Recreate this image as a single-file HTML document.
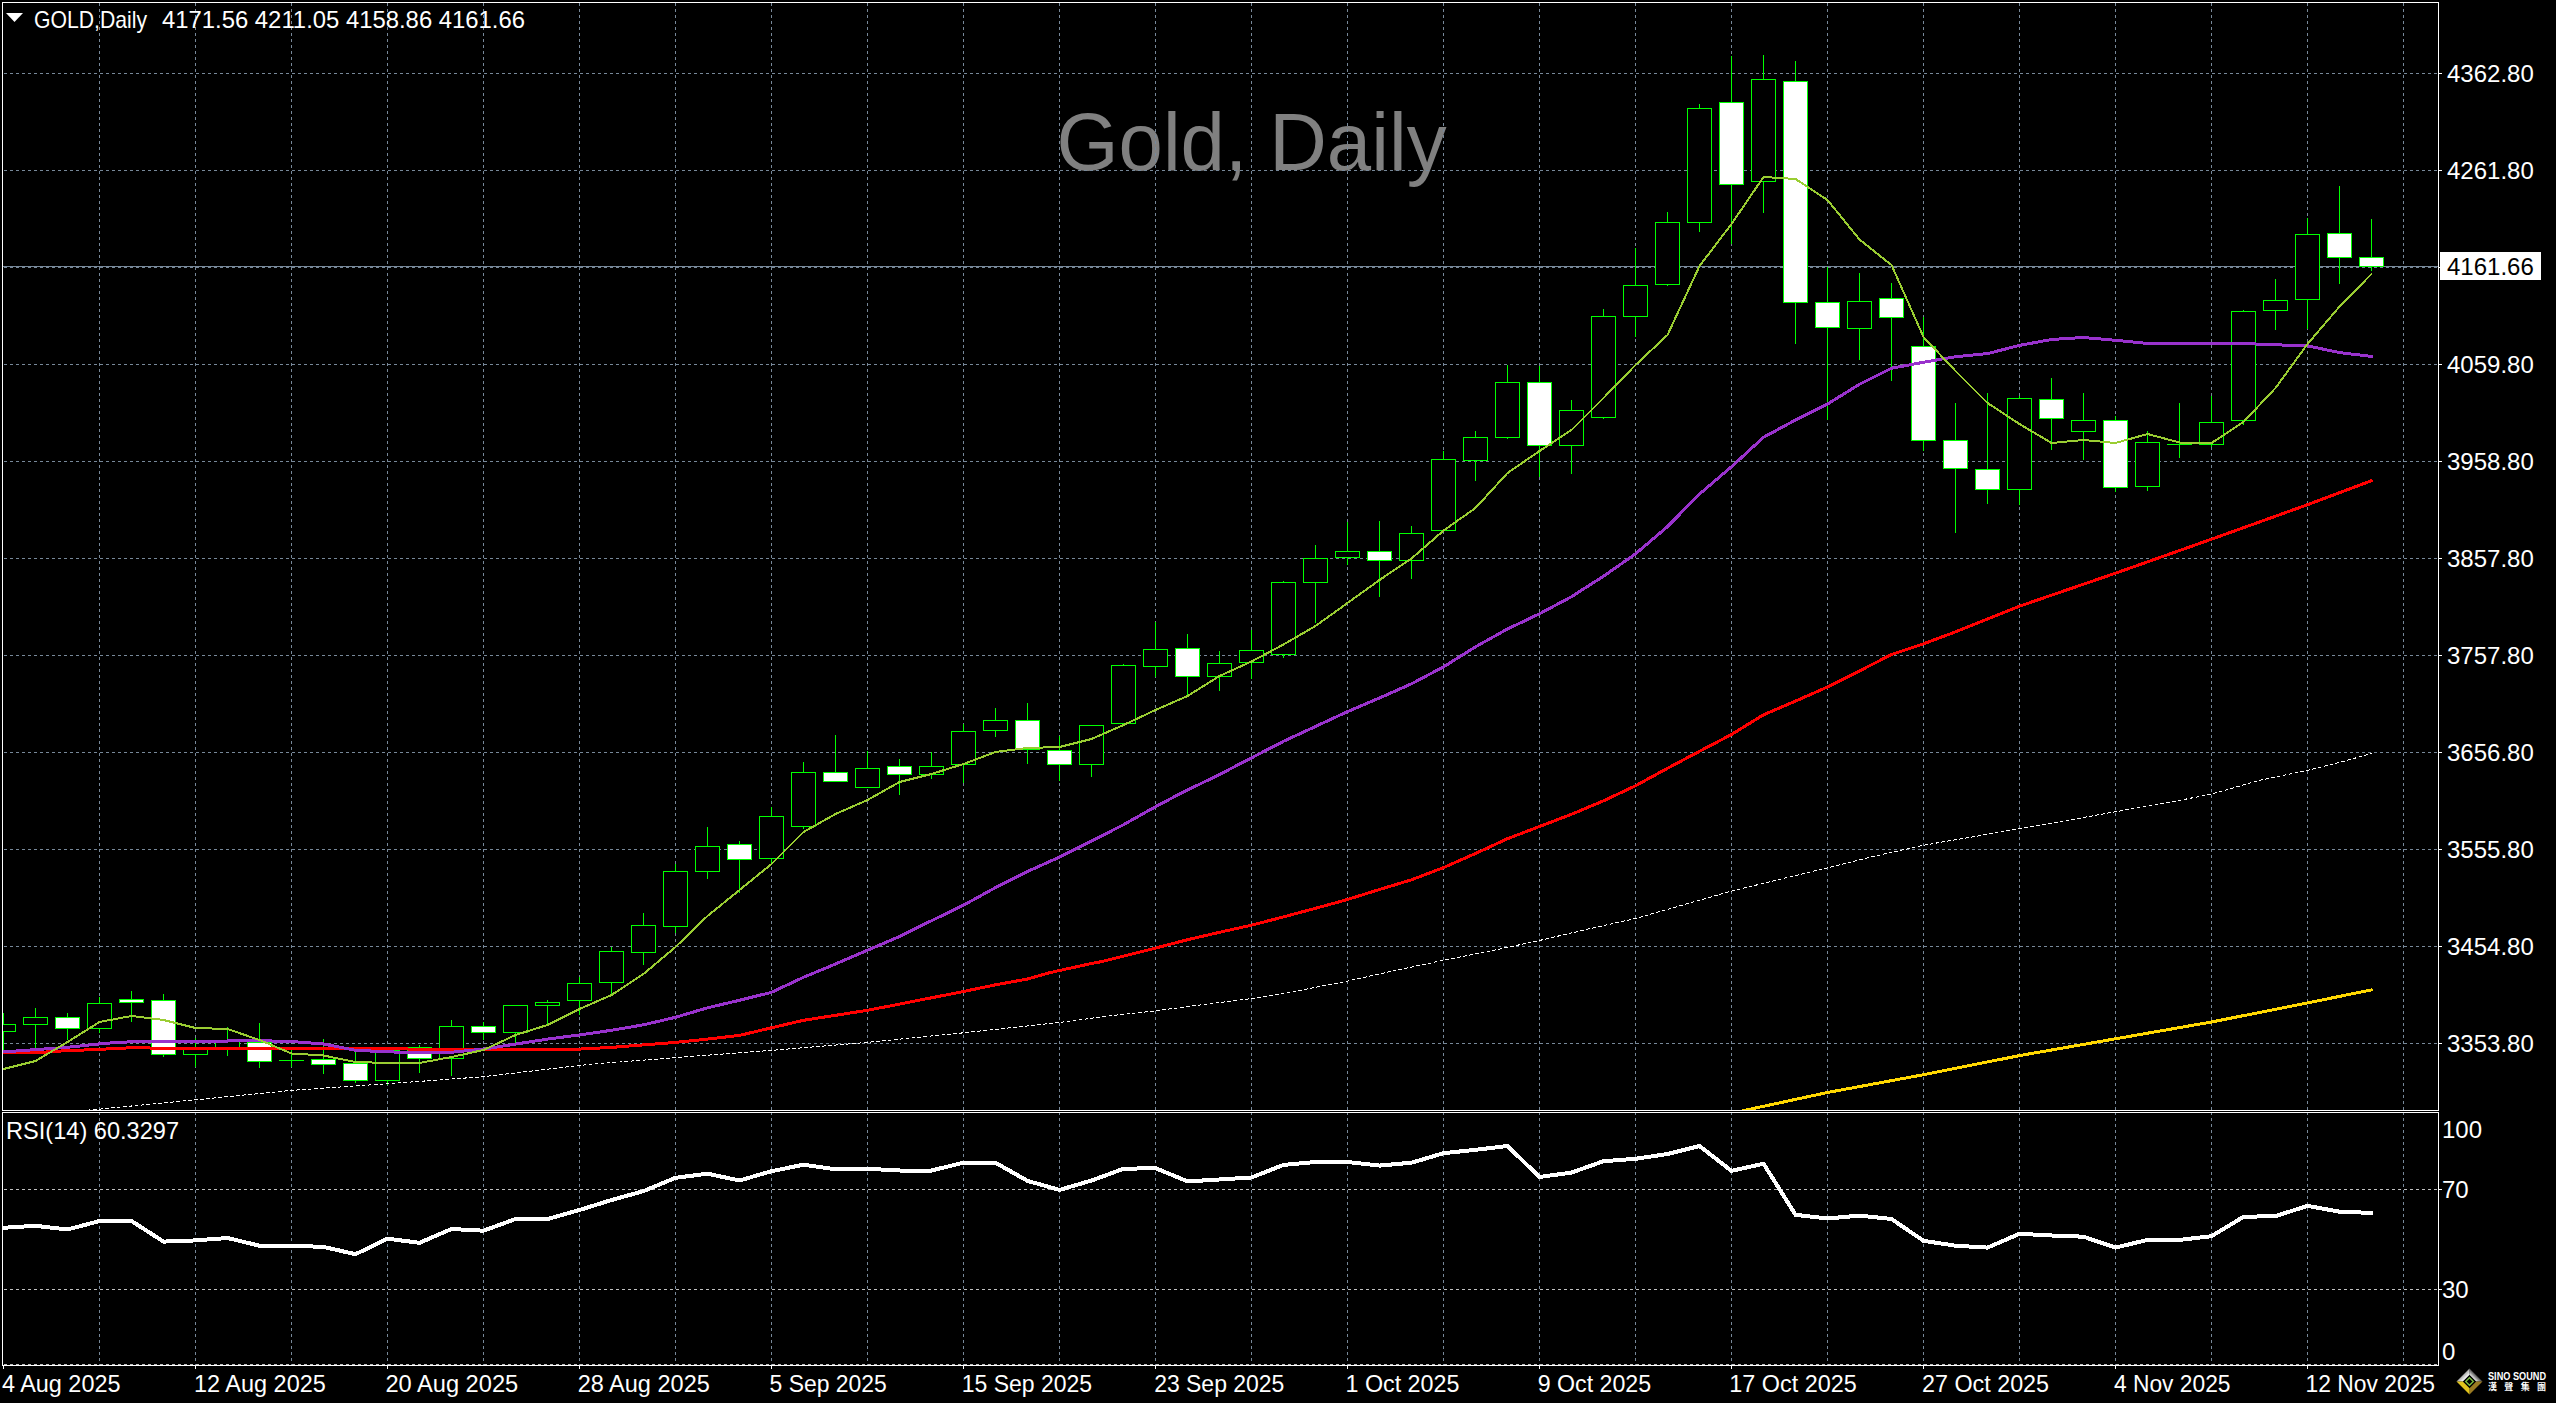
<!DOCTYPE html><html><head><meta charset="utf-8"><title>Gold, Daily</title>
<style>html,body{margin:0;padding:0;background:#000;overflow:hidden}svg{display:block}text{font-family:"Liberation Sans","Noto Sans CJK TC",sans-serif}</style></head><body>
<svg width="2556" height="1403" viewBox="0 0 2556 1403">
<rect x="0" y="0" width="2556" height="1403" fill="#000"/>
<defs><clipPath id="cm"><rect x="3" y="3" width="2435" height="1107"/></clipPath>
<clipPath id="cr"><rect x="3" y="1113" width="2435" height="252"/></clipPath></defs>
<text x="1056.5" y="170" font-size="81" fill="#808080" textLength="390" lengthAdjust="spacingAndGlyphs">Gold, Daily</text>
<g clip-path="url(#cm)" shape-rendering="crispEdges" stroke="#778899" stroke-width="1" stroke-dasharray="3 3"><line x1="99.5" y1="3" x2="99.5" y2="1110"/><line x1="195.5" y1="3" x2="195.5" y2="1110"/><line x1="291.5" y1="3" x2="291.5" y2="1110"/><line x1="387.5" y1="3" x2="387.5" y2="1110"/><line x1="483.5" y1="3" x2="483.5" y2="1110"/><line x1="579.5" y1="3" x2="579.5" y2="1110"/><line x1="675.5" y1="3" x2="675.5" y2="1110"/><line x1="771.5" y1="3" x2="771.5" y2="1110"/><line x1="867.5" y1="3" x2="867.5" y2="1110"/><line x1="963.5" y1="3" x2="963.5" y2="1110"/><line x1="1059.5" y1="3" x2="1059.5" y2="1110"/><line x1="1155.5" y1="3" x2="1155.5" y2="1110"/><line x1="1251.5" y1="3" x2="1251.5" y2="1110"/><line x1="1347.5" y1="3" x2="1347.5" y2="1110"/><line x1="1443.5" y1="3" x2="1443.5" y2="1110"/><line x1="1539.5" y1="3" x2="1539.5" y2="1110"/><line x1="1635.5" y1="3" x2="1635.5" y2="1110"/><line x1="1731.5" y1="3" x2="1731.5" y2="1110"/><line x1="1827.5" y1="3" x2="1827.5" y2="1110"/><line x1="1923.5" y1="3" x2="1923.5" y2="1110"/><line x1="2019.5" y1="3" x2="2019.5" y2="1110"/><line x1="2115.5" y1="3" x2="2115.5" y2="1110"/><line x1="2211.5" y1="3" x2="2211.5" y2="1110"/><line x1="2307.5" y1="3" x2="2307.5" y2="1110"/><line x1="2403.5" y1="3" x2="2403.5" y2="1110"/><line x1="4" y1="73.5" x2="2438" y2="73.5"/><line x1="4" y1="170.5" x2="2438" y2="170.5"/><line x1="4" y1="267.5" x2="2438" y2="267.5"/><line x1="4" y1="364.5" x2="2438" y2="364.5"/><line x1="4" y1="461.5" x2="2438" y2="461.5"/><line x1="4" y1="558.5" x2="2438" y2="558.5"/><line x1="4" y1="655.5" x2="2438" y2="655.5"/><line x1="4" y1="752.5" x2="2438" y2="752.5"/><line x1="4" y1="849.5" x2="2438" y2="849.5"/><line x1="4" y1="946.5" x2="2438" y2="946.5"/><line x1="4" y1="1043.5" x2="2438" y2="1043.5"/></g>
<line x1="3" y1="266.5" x2="2438" y2="266.5" stroke="#778899" stroke-width="1" shape-rendering="crispEdges"/>
<g clip-path="url(#cm)" shape-rendering="crispEdges" stroke="#00ff00" stroke-width="1"><line x1="3.5" y1="1013" x2="3.5" y2="1053"/><rect x="-8.5" y="1024.5" width="24" height="7" fill="#000"/><line x1="35.5" y1="1008" x2="35.5" y2="1049"/><rect x="23.5" y="1017.5" width="24" height="7" fill="#000"/><line x1="67.5" y1="1013" x2="67.5" y2="1040"/><rect x="55.5" y="1017.5" width="24" height="11" fill="#fff"/><line x1="99.5" y1="997" x2="99.5" y2="1033"/><rect x="87.5" y="1003.5" width="24" height="25" fill="#000"/><line x1="131.5" y1="991" x2="131.5" y2="1022"/><rect x="119.5" y="999.5" width="24" height="3" fill="#fff"/><line x1="163.5" y1="994" x2="163.5" y2="1057"/><rect x="151.5" y="1000.5" width="24" height="54" fill="#fff"/><line x1="195.5" y1="1038" x2="195.5" y2="1067"/><rect x="183.5" y="1048.5" width="24" height="6" fill="#000"/><line x1="227.5" y1="1027" x2="227.5" y2="1056"/><rect x="215.5" y="1041.5" width="24" height="7" fill="#000"/><line x1="259.5" y1="1023" x2="259.5" y2="1068"/><rect x="247.5" y="1042.5" width="24" height="19" fill="#fff"/><line x1="291.5" y1="1049" x2="291.5" y2="1067"/><line x1="279" y1="1060.5" x2="304" y2="1060.5"/><line x1="323.5" y1="1039" x2="323.5" y2="1074"/><rect x="311.5" y="1059.5" width="24" height="5" fill="#fff"/><line x1="355.5" y1="1051" x2="355.5" y2="1083"/><rect x="343.5" y="1063.5" width="24" height="17" fill="#fff"/><line x1="387.5" y1="1047" x2="387.5" y2="1085"/><rect x="375.5" y="1050.5" width="24" height="30" fill="#000"/><line x1="419.5" y1="1045" x2="419.5" y2="1073"/><rect x="407.5" y="1047.5" width="24" height="11" fill="#fff"/><line x1="451.5" y1="1020" x2="451.5" y2="1076"/><rect x="439.5" y="1026.5" width="24" height="32" fill="#000"/><line x1="483.5" y1="1022" x2="483.5" y2="1040"/><rect x="471.5" y="1026.5" width="24" height="6" fill="#fff"/><line x1="515.5" y1="1005" x2="515.5" y2="1044"/><rect x="503.5" y="1005.5" width="24" height="27" fill="#000"/><line x1="547.5" y1="1000" x2="547.5" y2="1026"/><rect x="535.5" y="1002.5" width="24" height="3" fill="#000"/><line x1="579.5" y1="977" x2="579.5" y2="1015"/><rect x="567.5" y="983.5" width="24" height="17" fill="#000"/><line x1="611.5" y1="947" x2="611.5" y2="996"/><rect x="599.5" y="951.5" width="24" height="31" fill="#000"/><line x1="643.5" y1="913" x2="643.5" y2="965"/><rect x="631.5" y="925.5" width="24" height="27" fill="#000"/><line x1="675.5" y1="864" x2="675.5" y2="933"/><rect x="663.5" y="871.5" width="24" height="55" fill="#000"/><line x1="707.5" y1="827" x2="707.5" y2="879"/><rect x="695.5" y="846.5" width="24" height="25" fill="#000"/><line x1="739.5" y1="841" x2="739.5" y2="893"/><rect x="727.5" y="844.5" width="24" height="15" fill="#fff"/><line x1="771.5" y1="807" x2="771.5" y2="863"/><rect x="759.5" y="816.5" width="24" height="42" fill="#000"/><line x1="803.5" y1="762" x2="803.5" y2="829"/><rect x="791.5" y="772.5" width="24" height="54" fill="#000"/><line x1="835.5" y1="735" x2="835.5" y2="782"/><rect x="823.5" y="772.5" width="24" height="9" fill="#fff"/><line x1="867.5" y1="751" x2="867.5" y2="788"/><rect x="855.5" y="768.5" width="24" height="19" fill="#000"/><line x1="899.5" y1="759" x2="899.5" y2="795"/><rect x="887.5" y="766.5" width="24" height="8" fill="#fff"/><line x1="931.5" y1="752" x2="931.5" y2="779"/><rect x="919.5" y="766.5" width="24" height="8" fill="#000"/><line x1="963.5" y1="724" x2="963.5" y2="783"/><rect x="951.5" y="731.5" width="24" height="33" fill="#000"/><line x1="995.5" y1="708" x2="995.5" y2="737"/><rect x="983.5" y="720.5" width="24" height="10" fill="#000"/><line x1="1027.5" y1="703" x2="1027.5" y2="764"/><rect x="1015.5" y="720.5" width="24" height="29" fill="#fff"/><line x1="1059.5" y1="736" x2="1059.5" y2="781"/><rect x="1047.5" y="750.5" width="24" height="14" fill="#fff"/><line x1="1091.5" y1="725" x2="1091.5" y2="777"/><rect x="1079.5" y="725.5" width="24" height="39" fill="#000"/><line x1="1123.5" y1="664" x2="1123.5" y2="725"/><rect x="1111.5" y="665.5" width="24" height="58" fill="#000"/><line x1="1155.5" y1="622" x2="1155.5" y2="677"/><rect x="1143.5" y="649.5" width="24" height="17" fill="#000"/><line x1="1187.5" y1="634" x2="1187.5" y2="695"/><rect x="1175.5" y="648.5" width="24" height="28" fill="#fff"/><line x1="1219.5" y1="651" x2="1219.5" y2="691"/><rect x="1207.5" y="663.5" width="24" height="13" fill="#000"/><line x1="1251.5" y1="630" x2="1251.5" y2="679"/><rect x="1239.5" y="650.5" width="24" height="12" fill="#000"/><line x1="1283.5" y1="581" x2="1283.5" y2="658"/><rect x="1271.5" y="582.5" width="24" height="72" fill="#000"/><line x1="1315.5" y1="545" x2="1315.5" y2="623"/><rect x="1303.5" y="558.5" width="24" height="24" fill="#000"/><line x1="1347.5" y1="522" x2="1347.5" y2="565"/><rect x="1335.5" y="551.5" width="24" height="6" fill="#000"/><line x1="1379.5" y1="521" x2="1379.5" y2="597"/><rect x="1367.5" y="551.5" width="24" height="9" fill="#fff"/><line x1="1411.5" y1="526" x2="1411.5" y2="579"/><rect x="1399.5" y="533.5" width="24" height="27" fill="#000"/><line x1="1443.5" y1="451" x2="1443.5" y2="532"/><rect x="1431.5" y="459.5" width="24" height="71" fill="#000"/><line x1="1475.5" y1="431" x2="1475.5" y2="481"/><rect x="1463.5" y="437.5" width="24" height="23" fill="#000"/><line x1="1507.5" y1="365" x2="1507.5" y2="439"/><rect x="1495.5" y="382.5" width="24" height="55" fill="#000"/><line x1="1539.5" y1="366" x2="1539.5" y2="477"/><rect x="1527.5" y="382.5" width="24" height="63" fill="#fff"/><line x1="1571.5" y1="400" x2="1571.5" y2="474"/><rect x="1559.5" y="410.5" width="24" height="35" fill="#000"/><line x1="1603.5" y1="309" x2="1603.5" y2="419"/><rect x="1591.5" y="316.5" width="24" height="101" fill="#000"/><line x1="1635.5" y1="248" x2="1635.5" y2="337"/><rect x="1623.5" y="285.5" width="24" height="31" fill="#000"/><line x1="1667.5" y1="212" x2="1667.5" y2="286"/><rect x="1655.5" y="222.5" width="24" height="62" fill="#000"/><line x1="1699.5" y1="104" x2="1699.5" y2="232"/><rect x="1687.5" y="108.5" width="24" height="114" fill="#000"/><line x1="1731.5" y1="56" x2="1731.5" y2="244"/><rect x="1719.5" y="102.5" width="24" height="82" fill="#fff"/><line x1="1763.5" y1="55" x2="1763.5" y2="213"/><rect x="1751.5" y="79.5" width="24" height="102" fill="#000"/><line x1="1795.5" y1="61" x2="1795.5" y2="344"/><rect x="1783.5" y="81.5" width="24" height="221" fill="#fff"/><line x1="1827.5" y1="267" x2="1827.5" y2="420"/><rect x="1815.5" y="302.5" width="24" height="25" fill="#fff"/><line x1="1859.5" y1="273" x2="1859.5" y2="360"/><rect x="1847.5" y="301.5" width="24" height="27" fill="#000"/><line x1="1891.5" y1="283" x2="1891.5" y2="381"/><rect x="1879.5" y="298.5" width="24" height="19" fill="#fff"/><line x1="1923.5" y1="317" x2="1923.5" y2="451"/><rect x="1911.5" y="346.5" width="24" height="94" fill="#fff"/><line x1="1955.5" y1="403" x2="1955.5" y2="533"/><rect x="1943.5" y="440.5" width="24" height="28" fill="#fff"/><line x1="1987.5" y1="393" x2="1987.5" y2="504"/><rect x="1975.5" y="469.5" width="24" height="20" fill="#fff"/><line x1="2019.5" y1="396" x2="2019.5" y2="505"/><rect x="2007.5" y="398.5" width="24" height="91" fill="#000"/><line x1="2051.5" y1="378" x2="2051.5" y2="450"/><rect x="2039.5" y="399.5" width="24" height="19" fill="#fff"/><line x1="2083.5" y1="393" x2="2083.5" y2="460"/><rect x="2071.5" y="420.5" width="24" height="11" fill="#000"/><line x1="2115.5" y1="416" x2="2115.5" y2="492"/><rect x="2103.5" y="420.5" width="24" height="67" fill="#fff"/><line x1="2147.5" y1="431" x2="2147.5" y2="491"/><rect x="2135.5" y="442.5" width="24" height="44" fill="#000"/><line x1="2179.5" y1="403" x2="2179.5" y2="458"/><line x1="2167" y1="444.5" x2="2192" y2="444.5"/><line x1="2211.5" y1="396" x2="2211.5" y2="447"/><rect x="2199.5" y="422.5" width="24" height="22" fill="#000"/><line x1="2243.5" y1="310" x2="2243.5" y2="425"/><rect x="2231.5" y="311.5" width="24" height="109" fill="#000"/><line x1="2275.5" y1="279" x2="2275.5" y2="330"/><rect x="2263.5" y="300.5" width="24" height="10" fill="#000"/><line x1="2307.5" y1="218" x2="2307.5" y2="329"/><rect x="2295.5" y="234.5" width="24" height="65" fill="#000"/><line x1="2339.5" y1="186" x2="2339.5" y2="284"/><rect x="2327.5" y="233.5" width="24" height="24" fill="#fff"/><line x1="2371.5" y1="219" x2="2371.5" y2="271"/><rect x="2359.5" y="257.5" width="24" height="9" fill="#fff"/></g>
<g clip-path="url(#cm)" shape-rendering="crispEdges"><polyline points="3.5,1117 95.5,1109.5 195.5,1099.8 291.5,1090.4 387.5,1083.7 483.5,1076.7 579.5,1065.4 600.5,1063.5 675.5,1057.6 771.5,1050.4 867.5,1042.4 963.5,1032.8 1059.5,1022.5 1107.5,1016.1 1155.5,1010.8 1203.5,1004.5 1251.5,998.6 1299.5,990.5 1347.5,981.1 1395.5,970.4 1443.5,960.3 1491.5,950.8 1539.5,940.5 1587.5,929.2 1635.5,918.5 1683.5,904.8 1731.5,891.1 1779.5,879.4 1827.5,867.8 1875.5,856 1923.5,845.2 1971.5,837.1 2019.5,828.6 2067.5,820.4 2115.5,811.7 2163.5,803.5 2211.5,794.1 2259.5,780.4 2307.5,770.4 2339.5,762.5 2371.5,753.5" fill="none" stroke="#ffffff" stroke-width="1" stroke-linejoin="round" stroke-linecap="round" stroke-dasharray="3 3" shape-rendering="crispEdges"/><polyline points="1667.5,1127 1827.5,1092.5 1923.5,1074.7 2019.5,1055.6 2115.5,1038.8 2211.5,1022 2307.5,1002.9 2371.5,989.9" fill="none" stroke="#ffd700" stroke-width="3" stroke-linejoin="round" stroke-linecap="round" /><polyline points="3.5,1053 41.5,1052.5 48.5,1051.7 72.5,1050.4 95.5,1049.6 115.5,1048.5 135.5,1047.6 147.5,1047.6 152.5,1048.5 163.5,1048.3 400.5,1048.5 420.5,1049.9 515.5,1049.9 547.5,1049.9 579.5,1049.1 611.5,1047.4 643.5,1044.9 675.5,1042.4 707.5,1039.1 739.5,1035.4 771.5,1027.8 803.5,1020.3 835.5,1015.3 867.5,1010.3 899.5,1004.1 931.5,997.8 963.5,991.5 995.5,984.8 1027.5,979 1050.5,972.5 1059.5,970.5 1091.5,963.5 1100.5,961.8 1155.5,948.1 1187.5,939.7 1219.5,932.3 1251.5,925.2 1283.5,916.9 1315.5,908.3 1347.5,899.5 1379.5,889.5 1411.5,879.8 1443.5,867.6 1475.5,853.5 1507.5,838.7 1539.5,826.5 1571.5,814.3 1603.5,800.8 1635.5,785.8 1667.5,768.3 1699.5,751.3 1731.5,734.5 1763.5,714.8 1795.5,701.1 1827.5,687 1859.5,670.9 1891.5,654.6 1923.5,643.8 1955.5,631.9 1987.5,619 2019.5,606.2 2115.5,573.2 2211.5,539.2 2307.5,504.7 2371.5,480.7" fill="none" stroke="#ff0000" stroke-width="3" stroke-linejoin="round" stroke-linecap="round" /><polyline points="3.5,1051.8 19.5,1050.8 35.5,1049.6 67.5,1047.3 83.5,1045.6 99.5,1043.9 115.5,1042.5 131.5,1041.8 163.5,1041.3 227.5,1041 259.5,1040.7 291.5,1041.5 323.5,1044 355.5,1050.3 387.5,1051.8 419.5,1052.8 451.5,1052.3 483.5,1049.1 515.5,1044.1 547.5,1039.1 579.5,1034.9 611.5,1030.3 643.5,1024.8 675.5,1017.3 707.5,1007.8 739.5,1000.3 771.5,992.3 803.5,977.3 835.5,964 867.5,950.2 899.5,936.5 931.5,920.7 963.5,905.2 995.5,887.6 1027.5,871.5 1059.5,857.1 1091.5,841.1 1123.5,824.7 1155.5,806.7 1180.5,793.5 1219.5,774.5 1251.5,757.9 1283.5,741.3 1315.5,726.5 1347.5,711.6 1379.5,698 1411.5,683.8 1443.5,666.9 1475.5,646.8 1507.5,629 1539.5,613.8 1571.5,596.7 1603.5,576.2 1635.5,553.9 1667.5,526.6 1699.5,494.1 1731.5,466.7 1763.5,437.3 1795.5,420 1827.5,404.1 1859.5,384.2 1891.5,368.2 1923.5,362.3 1955.5,356.7 1987.5,353.6 2019.5,345.4 2051.5,339.5 2083.5,337.5 2115.5,340.3 2147.5,343.4 2179.5,343.4 2211.5,343.5 2243.5,343.5 2275.5,344.8 2307.5,345.8 2339.5,352.6 2371.5,356.4" fill="none" stroke="#9932cc" stroke-width="3" stroke-linejoin="round" stroke-linecap="round" /><polyline points="3.5,1069 35.5,1061 67.5,1042 99.5,1022 131.5,1016 163.5,1020 195.5,1028 227.5,1029 259.5,1040 291.5,1053.5 323.5,1055.5 355.5,1062 387.5,1063 419.5,1063 451.5,1057 483.5,1050 515.5,1035 547.5,1025 579.5,1009 611.5,995 643.5,974 675.5,947 707.5,916 739.5,890 771.5,864 803.5,832 835.5,814 867.5,800 899.5,782 931.5,774 963.5,764 995.5,752 1027.5,748 1059.5,747 1091.5,739 1123.5,725 1155.5,710 1187.5,696 1219.5,676 1251.5,661.5 1283.5,644.5 1315.5,626 1347.5,603 1379.5,580 1411.5,558.5 1443.5,530.6 1475.5,508 1507.5,473 1539.5,451 1571.5,430 1603.5,398 1635.5,365 1667.5,335 1699.5,266 1731.5,224 1763.5,177 1795.5,179 1827.5,200 1859.5,239.5 1891.5,265 1923.5,337 1955.5,371 1987.5,403 2019.5,424 2051.5,443 2083.5,440 2115.5,443 2147.5,434 2179.5,442.5 2211.5,443 2243.5,422 2275.5,388 2307.5,344 2339.5,306.6 2371.5,274" fill="none" stroke="#9acd32" stroke-width="2" stroke-linejoin="round" stroke-linecap="round" /></g>
<g shape-rendering="crispEdges" fill="none" stroke="#ffffff" stroke-width="1"><rect x="2.5" y="2.5" width="2436" height="1108"/><rect x="2.5" y="1112.5" width="2436" height="253"/><line x1="2439" y1="73.5" x2="2442" y2="73.5"/><line x1="2439" y1="170.5" x2="2442" y2="170.5"/><line x1="2439" y1="267.5" x2="2442" y2="267.5"/><line x1="2439" y1="364.5" x2="2442" y2="364.5"/><line x1="2439" y1="461.5" x2="2442" y2="461.5"/><line x1="2439" y1="558.5" x2="2442" y2="558.5"/><line x1="2439" y1="655.5" x2="2442" y2="655.5"/><line x1="2439" y1="752.5" x2="2442" y2="752.5"/><line x1="2439" y1="849.5" x2="2442" y2="849.5"/><line x1="2439" y1="946.5" x2="2442" y2="946.5"/><line x1="2439" y1="1043.5" x2="2442" y2="1043.5"/><line x1="2439" y1="267.5" x2="2442" y2="267.5"/><line x1="2439" y1="1189.5" x2="2442" y2="1189.5"/><line x1="2439" y1="1289.5" x2="2442" y2="1289.5"/><line x1="3.5" y1="1366" x2="3.5" y2="1369"/><line x1="195.5" y1="1366" x2="195.5" y2="1369"/><line x1="387.5" y1="1366" x2="387.5" y2="1369"/><line x1="579.5" y1="1366" x2="579.5" y2="1369"/><line x1="771.5" y1="1366" x2="771.5" y2="1369"/><line x1="963.5" y1="1366" x2="963.5" y2="1369"/><line x1="1155.5" y1="1366" x2="1155.5" y2="1369"/><line x1="1347.5" y1="1366" x2="1347.5" y2="1369"/><line x1="1539.5" y1="1366" x2="1539.5" y2="1369"/><line x1="1731.5" y1="1366" x2="1731.5" y2="1369"/><line x1="1923.5" y1="1366" x2="1923.5" y2="1369"/><line x1="2115.5" y1="1366" x2="2115.5" y2="1369"/><line x1="2307.5" y1="1366" x2="2307.5" y2="1369"/></g>
<g fill="#ffffff" font-size="24"><text x="2447" y="82">4362.80</text><text x="2447" y="179">4261.80</text><text x="2447" y="373">4059.80</text><text x="2447" y="470">3958.80</text><text x="2447" y="567">3857.80</text><text x="2447" y="664">3757.80</text><text x="2447" y="761">3656.80</text><text x="2447" y="858">3555.80</text><text x="2447" y="955">3454.80</text><text x="2447" y="1052">3353.80</text></g>
<rect x="2440" y="252" width="101" height="28" fill="#ffffff"/>
<text x="2447" y="275" font-size="24" fill="#000000">4161.66</text>
<polygon points="6,13 23,13 14.5,22" fill="#ffffff"/>
<text x="34" y="28" font-size="24" fill="#ffffff" textLength="113" lengthAdjust="spacingAndGlyphs">GOLD,Daily</text>
<text x="162" y="28" font-size="24" fill="#ffffff" textLength="363" lengthAdjust="spacingAndGlyphs">4171.56 4211.05 4158.86 4161.66</text>
<g clip-path="url(#cr)" shape-rendering="crispEdges" stroke-width="1"><line x1="99.5" y1="1112" x2="99.5" y2="1365" stroke="#778899" stroke-dasharray="3 3"/><line x1="195.5" y1="1112" x2="195.5" y2="1365" stroke="#778899" stroke-dasharray="3 3"/><line x1="291.5" y1="1112" x2="291.5" y2="1365" stroke="#778899" stroke-dasharray="3 3"/><line x1="387.5" y1="1112" x2="387.5" y2="1365" stroke="#778899" stroke-dasharray="3 3"/><line x1="483.5" y1="1112" x2="483.5" y2="1365" stroke="#778899" stroke-dasharray="3 3"/><line x1="579.5" y1="1112" x2="579.5" y2="1365" stroke="#778899" stroke-dasharray="3 3"/><line x1="675.5" y1="1112" x2="675.5" y2="1365" stroke="#778899" stroke-dasharray="3 3"/><line x1="771.5" y1="1112" x2="771.5" y2="1365" stroke="#778899" stroke-dasharray="3 3"/><line x1="867.5" y1="1112" x2="867.5" y2="1365" stroke="#778899" stroke-dasharray="3 3"/><line x1="963.5" y1="1112" x2="963.5" y2="1365" stroke="#778899" stroke-dasharray="3 3"/><line x1="1059.5" y1="1112" x2="1059.5" y2="1365" stroke="#778899" stroke-dasharray="3 3"/><line x1="1155.5" y1="1112" x2="1155.5" y2="1365" stroke="#778899" stroke-dasharray="3 3"/><line x1="1251.5" y1="1112" x2="1251.5" y2="1365" stroke="#778899" stroke-dasharray="3 3"/><line x1="1347.5" y1="1112" x2="1347.5" y2="1365" stroke="#778899" stroke-dasharray="3 3"/><line x1="1443.5" y1="1112" x2="1443.5" y2="1365" stroke="#778899" stroke-dasharray="3 3"/><line x1="1539.5" y1="1112" x2="1539.5" y2="1365" stroke="#778899" stroke-dasharray="3 3"/><line x1="1635.5" y1="1112" x2="1635.5" y2="1365" stroke="#778899" stroke-dasharray="3 3"/><line x1="1731.5" y1="1112" x2="1731.5" y2="1365" stroke="#778899" stroke-dasharray="3 3"/><line x1="1827.5" y1="1112" x2="1827.5" y2="1365" stroke="#778899" stroke-dasharray="3 3"/><line x1="1923.5" y1="1112" x2="1923.5" y2="1365" stroke="#778899" stroke-dasharray="3 3"/><line x1="2019.5" y1="1112" x2="2019.5" y2="1365" stroke="#778899" stroke-dasharray="3 3"/><line x1="2115.5" y1="1112" x2="2115.5" y2="1365" stroke="#778899" stroke-dasharray="3 3"/><line x1="2211.5" y1="1112" x2="2211.5" y2="1365" stroke="#778899" stroke-dasharray="3 3"/><line x1="2307.5" y1="1112" x2="2307.5" y2="1365" stroke="#778899" stroke-dasharray="3 3"/><line x1="2403.5" y1="1112" x2="2403.5" y2="1365" stroke="#778899" stroke-dasharray="3 3"/><line x1="4" y1="1189.5" x2="2438" y2="1189.5" stroke="#c0c0c0" stroke-dasharray="3 3"/><line x1="4" y1="1289.5" x2="2438" y2="1289.5" stroke="#c0c0c0" stroke-dasharray="3 3"/><line x1="4" y1="1364.5" x2="2438" y2="1364.5" stroke="#c0c0c0" stroke-dasharray="3 3"/></g>
<g clip-path="url(#cr)" shape-rendering="crispEdges"><polyline points="3.5,1227.8 35.5,1225.8 67.5,1229.5 99.5,1221 131.5,1221 163.5,1241.6 195.5,1240.4 227.5,1238 259.5,1245.7 291.5,1245.7 323.5,1246.9 355.5,1254.2 387.5,1238.7 419.5,1242.8 451.5,1229 483.5,1230.7 515.5,1219 547.5,1219 579.5,1210 611.5,1200 643.5,1191.1 675.5,1177.8 707.5,1173.7 739.5,1180.5 771.5,1171.2 803.5,1164.7 835.5,1169.3 867.5,1168.8 899.5,1170.5 931.5,1170.5 963.5,1162.7 995.5,1162.7 1027.5,1180.9 1059.5,1189.9 1091.5,1180.5 1123.5,1168.8 1155.5,1168.1 1187.5,1181.4 1219.5,1179.5 1251.5,1177.5 1283.5,1164.9 1315.5,1162 1347.5,1162 1379.5,1165.6 1411.5,1162.7 1443.5,1153.2 1475.5,1149.8 1507.5,1146 1539.5,1177 1571.5,1172.6 1603.5,1161.2 1635.5,1158.8 1667.5,1154 1699.5,1146 1731.5,1170.9 1763.5,1163.7 1795.5,1214.8 1827.5,1218.5 1859.5,1215.6 1891.5,1219 1923.5,1240.8 1955.5,1245.7 1987.5,1247.6 2019.5,1233.8 2051.5,1235.5 2083.5,1236.7 2115.5,1247.6 2147.5,1239.9 2179.5,1239.9 2211.5,1236.2 2243.5,1216.8 2275.5,1216.1 2307.5,1205.9 2339.5,1211.7 2371.5,1212.9" fill="none" stroke="#ffffff" stroke-width="4" stroke-linejoin="round" stroke-linecap="round" /></g>
<text x="6" y="1139" font-size="24" fill="#ffffff" textLength="173" lengthAdjust="spacingAndGlyphs">RSI(14) 60.3297</text>
<g fill="#ffffff" font-size="24"><text x="2442" y="1138">100</text><text x="2442" y="1198">70</text><text x="2442" y="1298">30</text><text x="2442" y="1360">0</text></g>
<g fill="#ffffff" font-size="24"><text x="2" y="1392" textLength="118.44" lengthAdjust="spacingAndGlyphs">4 Aug 2025</text><text x="194.05" y="1392" textLength="131.75" lengthAdjust="spacingAndGlyphs">12 Aug 2025</text><text x="385.42" y="1392" textLength="132.79" lengthAdjust="spacingAndGlyphs">20 Aug 2025</text><text x="577.72" y="1392" textLength="132.08" lengthAdjust="spacingAndGlyphs">28 Aug 2025</text><text x="769.54" y="1392" textLength="117.3" lengthAdjust="spacingAndGlyphs">5 Sep 2025</text><text x="961.78" y="1392" textLength="130.39" lengthAdjust="spacingAndGlyphs">15 Sep 2025</text><text x="1154.14" y="1392" textLength="130.23" lengthAdjust="spacingAndGlyphs">23 Sep 2025</text><text x="1345.46" y="1392" textLength="113.95" lengthAdjust="spacingAndGlyphs">1 Oct 2025</text><text x="1537.73" y="1392" textLength="113.37" lengthAdjust="spacingAndGlyphs">9 Oct 2025</text><text x="1729.25" y="1392" textLength="127.5" lengthAdjust="spacingAndGlyphs">17 Oct 2025</text><text x="1922.03" y="1392" textLength="127.01" lengthAdjust="spacingAndGlyphs">27 Oct 2025</text><text x="2114" y="1392" textLength="116.53" lengthAdjust="spacingAndGlyphs">4 Nov 2025</text><text x="2305.5" y="1392" textLength="129.56" lengthAdjust="spacingAndGlyphs">12 Nov 2025</text></g>
<g>
<defs>
<linearGradient id="lgtl" x1="0" y1="0" x2="1" y2="1"><stop offset="0.5" stop-color="#a8a8a8"/><stop offset="0.75" stop-color="#ffffff"/></linearGradient>
<linearGradient id="lgtr" x1="1" y1="0" x2="0" y2="1"><stop offset="0.5" stop-color="#505050"/><stop offset="0.75" stop-color="#f0f0f0"/></linearGradient>
</defs>
<polygon points="2456.5,1381.5 2469.5,1368.5 2469.5,1375 2463,1381.5" fill="url(#lgtl)"/>
<polygon points="2469.5,1368.5 2482.5,1381.5 2476,1381.5 2469.5,1375" fill="url(#lgtr)"/>
<polygon points="2482.5,1381.5 2469.5,1394.5 2469.5,1388 2476,1381.5" fill="#9a7a22"/>
<polygon points="2469.5,1394.5 2456.5,1381.5 2463,1381.5 2469.5,1388" fill="#e2c41c"/>
<polygon points="2469.5,1375 2476,1381.5 2469.5,1388 2463,1381.5" fill="#000"/>
<polygon points="2469.5,1377.7 2473.3,1381.5 2469.5,1385.3 2465.7,1381.5" fill="none" stroke="#7cc242" stroke-width="1.3"/>
<text x="2488" y="1380" font-size="10" font-weight="bold" fill="#ffffff" textLength="58" lengthAdjust="spacingAndGlyphs">SINO SOUND</text>
<text x="2488" y="1390" font-size="9" font-weight="bold" fill="#ffffff" textLength="58" lengthAdjust="spacing" style="font-family:'Liberation Sans','Noto Sans CJK TC','Noto Sans CJK SC',sans-serif">漢聲集團</text>
</g>
</svg></body></html>
